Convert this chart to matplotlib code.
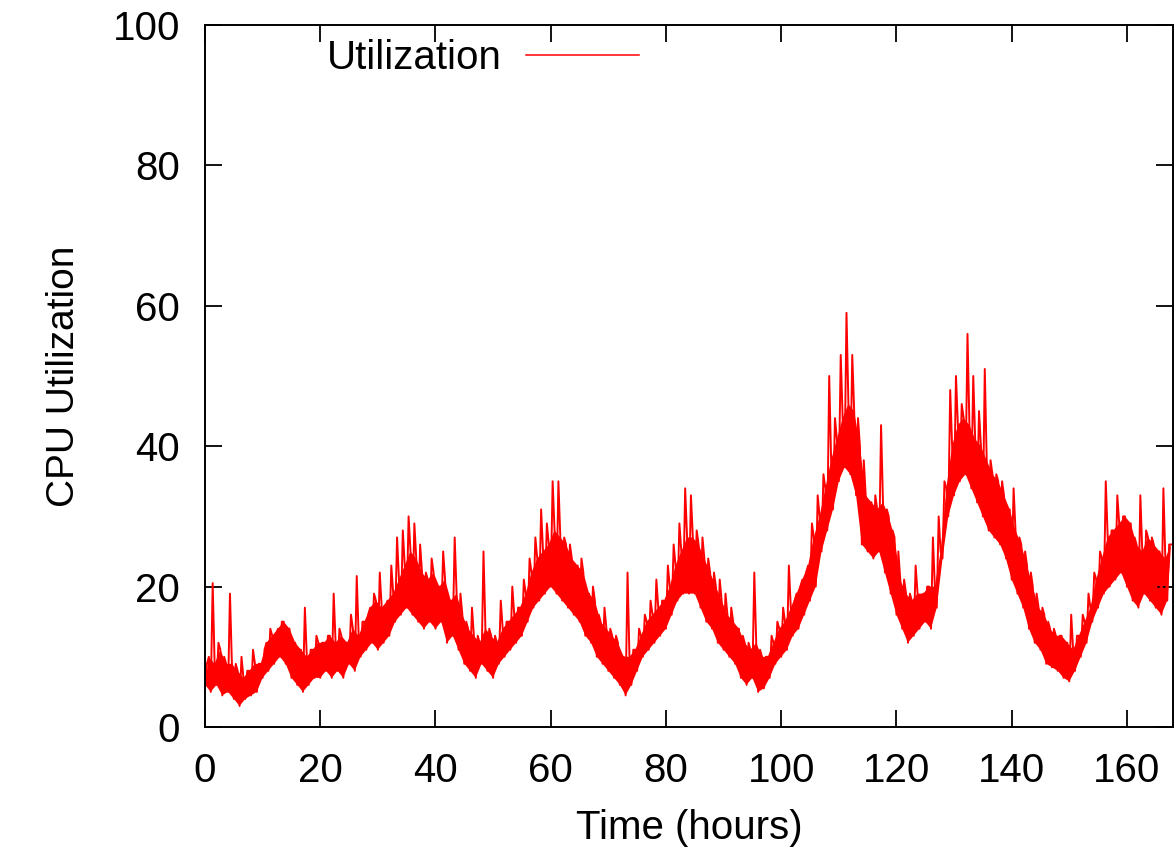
import numpy as np
import matplotlib
matplotlib.use("Agg")
import matplotlib.pyplot as plt

# hourly CPU utilization (%): band bottom, band top, spike top
band_lo = [6, 5, 6, 4.5, 5, 4, 3, 4, 4.5, 5,
           7, 8, 9, 10, 9, 7, 6, 5, 6, 7,
           7, 8, 7, 8, 7, 9, 8, 10, 11, 12,
           11, 12, 13, 15, 16, 17, 16, 15, 14, 15,
           14, 15, 12, 13, 11, 9, 8, 7, 9, 8,
           7, 9, 10, 11, 12, 13, 15, 17, 18, 19,
           20, 19, 18, 17, 16, 15, 13, 12, 10, 9,
           8, 7, 6, 4.5, 6, 8, 10, 11, 12, 13,
           14, 16, 18, 19, 19, 19, 17, 15, 14, 12,
           11, 10, 9, 7, 6, 7, 5, 5.5, 7, 9,
           10, 11, 13, 14, 16, 18, 20, 25, 28, 31,
           35, 37, 36, 33, 26, 25, 24, 25, 22, 19,
           16, 14, 12, 13, 14, 15, 14, 17, 24, 30,
           33, 35, 36, 34, 32, 30, 28, 27, 26, 24,
           21, 19, 17, 14, 12, 11, 9, 8.5, 8, 7,
           6.5, 8, 10, 12, 15, 17, 19, 20, 21, 22,
           20, 18, 17, 19, 18, 17, 16, 18]

band_hi = [10, 9, 11, 9, 9, 8, 7, 8, 9, 9,
           12, 13, 14, 15, 14, 12, 11, 10, 11, 12,
           12, 13, 12, 13, 12, 14, 13, 15, 17, 18,
           17, 18, 19, 21, 23, 25, 24, 22, 21, 22,
           20, 21, 18, 19, 16, 14, 13, 12, 14, 13,
           12, 14, 15, 16, 17, 19, 22, 24, 25, 26,
           28, 27, 26, 24, 23, 22, 19, 18, 15, 14,
           13, 12, 10, 10, 11, 13, 15, 16, 17, 18,
           20, 23, 25, 27, 27, 26, 24, 22, 20, 18,
           16, 15, 14, 12, 11, 12, 10, 10, 12, 14,
           15, 17, 19, 21, 23, 27, 30, 34, 38, 41,
           44, 46, 45, 40, 33, 32, 31, 32, 30, 27,
           21, 19, 18, 19, 19, 20, 20, 25, 34, 40,
           43, 44, 43, 41, 40, 38, 36, 35, 33, 31,
           28, 26, 23, 20, 17, 16, 14, 13, 13, 12,
           11, 13, 15, 17, 21, 24, 27, 28, 29, 30,
           29, 26, 25, 27, 26, 25, 24, 26]

spike = [9, 20.5, 12, 10, 19, 9, 10, 8, 11, 9,
         11, 14, 13, 15, 14, 12, 11, 17, 11, 13,
         12, 13, 19, 14, 12, 16, 21.5, 15, 16, 19,
         22, 17, 23, 27, 28, 30, 29, 26, 22, 24,
         20, 25, 18, 27, 19, 15, 17, 13, 25, 14,
         13, 18, 15, 20, 17, 21, 24, 27, 31, 29,
         35, 35, 27, 26, 22, 24, 19, 20, 16, 17,
         14, 13, 10, 22, 11, 14, 16, 18, 21, 18,
         23, 26, 29, 34, 33, 28, 27, 24, 22, 21,
         19, 17, 14, 13, 12, 22, 11, 10, 13, 15,
         17, 23, 18, 20, 22, 29, 33, 36, 50, 44,
         53, 59, 53, 44, 38, 32, 33, 43, 31, 28,
         25, 21, 19, 23, 18, 20, 27, 30, 35, 48,
         50, 46, 56, 50, 45, 51, 38, 36, 35, 30,
         34, 27, 25, 22, 19, 17, 15, 14, 13, 12,
         16, 13, 16, 19, 22, 25, 35, 28, 33, 30,
         29, 27, 33, 28, 27, 25, 34, 26]

hours = np.arange(len(band_lo))
t = (hours[:, None] + np.array([0, 1 / 3, 2 / 3])).ravel()
cpu = np.column_stack([band_lo, spike, band_hi]).ravel()

plt.rcParams['font.family'] = ['Liberation Sans', 'DejaVu Sans']

fig = plt.figure(figsize=(11.75, 8.57), dpi=100)
ax = fig.add_axes([205 / 1175, 1 - 727 / 857, 968 / 1175, 702 / 857])

red = '#ff0000'
# dense core of the trace
ax.fill(np.concatenate([hours, (hours + 2 / 3)[::-1]]),
        np.concatenate([band_lo, band_hi[::-1]]), color=red, lw=0)
ax.plot(t, cpu, color=red, lw=1.4, label='Utilization')

ax.set_xlim(0, 168)
ax.set_ylim(0, 100)
ax.set_xticks(np.arange(0, 161, 20))
ax.set_yticks(np.arange(0, 101, 20))
ax.tick_params(direction='in', length=12, width=1.3, top=True, right=True,
               labelsize=29, pad=18)
for s in ax.spines.values():
    s.set_linewidth(1.4)

ax.set_xlabel('Time (hours)', fontsize=29, labelpad=14)
ax.set_ylabel('CPU Utilization', fontsize=28, labelpad=22)

leg = ax.legend(loc='center left', bbox_to_anchor=(327 / 1175, 1 - 58 / 857),
                bbox_transform=fig.transFigure, frameon=False, markerfirst=False,
                fontsize=29, handlelength=2.8, handletextpad=0.6,
                borderpad=0, borderaxespad=0)
leg.get_lines()[0].set_linewidth(1.1)

fig.savefig('out.png', dpi=100)
